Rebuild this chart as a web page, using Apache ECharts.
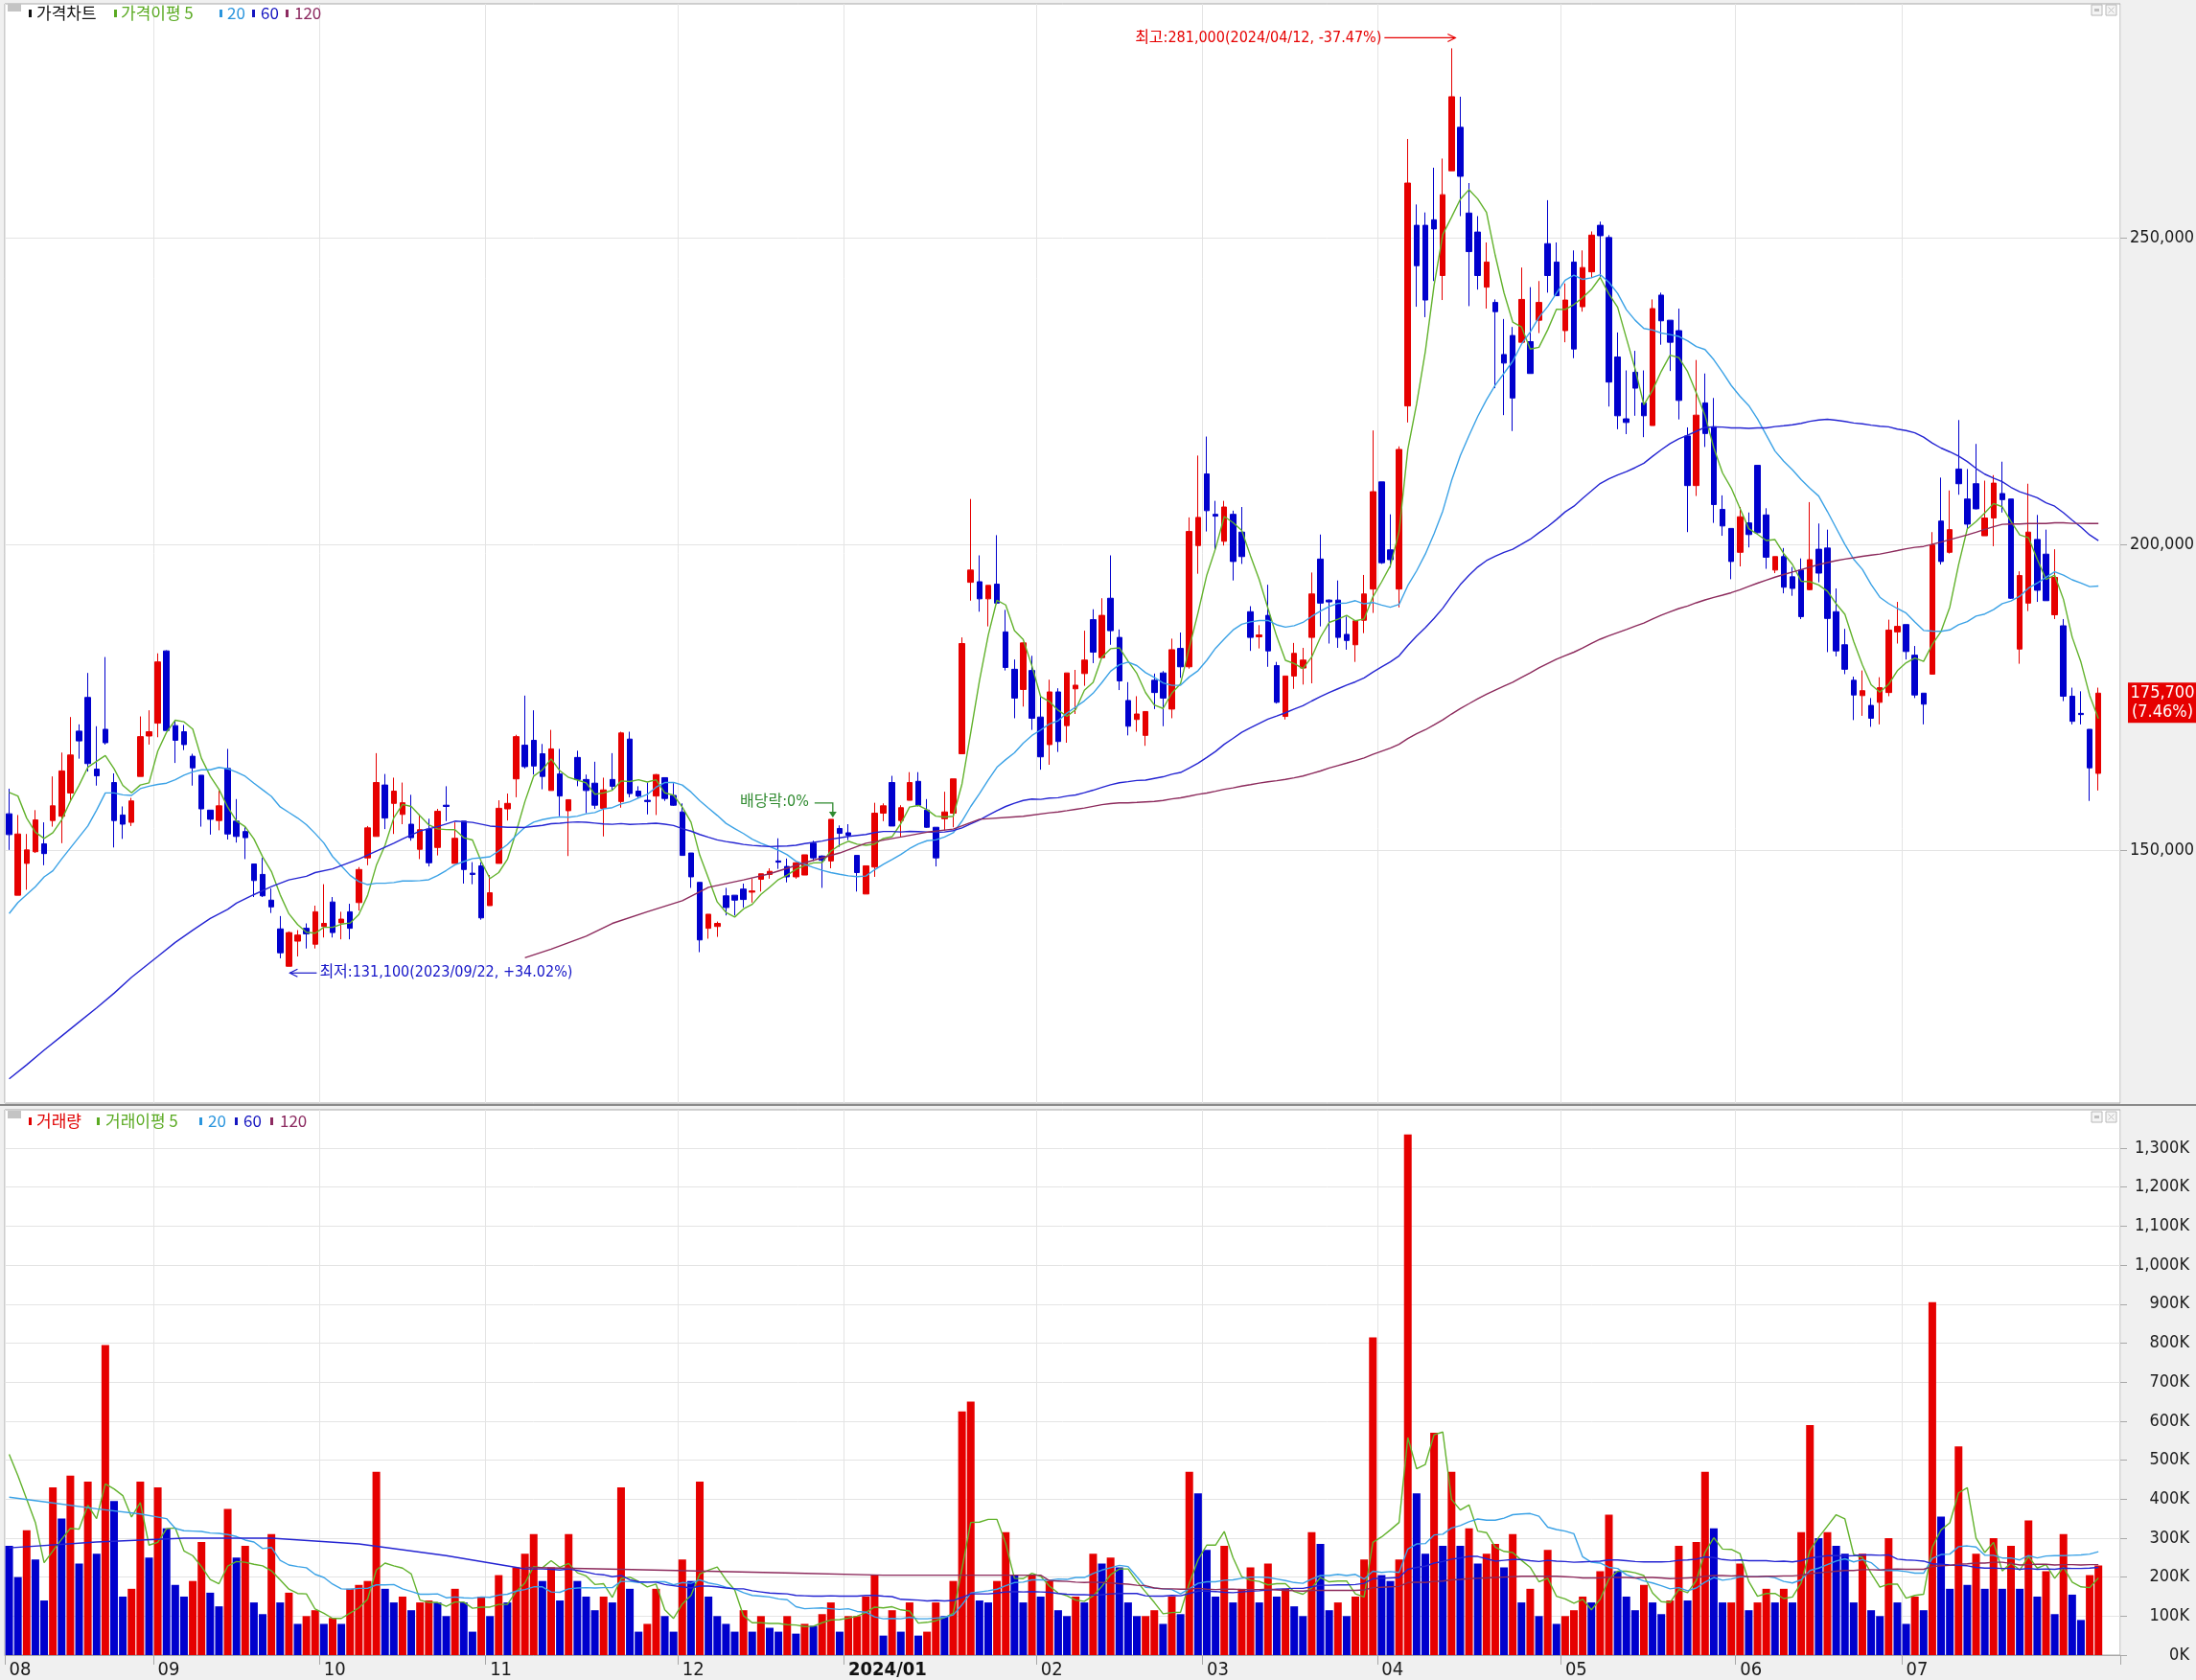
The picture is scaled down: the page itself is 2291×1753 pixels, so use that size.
<!DOCTYPE html>
<html><head><meta charset="utf-8">
<script src="https://cdn.jsdelivr.net/npm/echarts@6/dist/echarts.min.js"></script>
<style>html,body{margin:0;padding:0;background:#f0f0f0;overflow:hidden;}#chart{width:2291px;height:1753px;}</style>
</head><body><div id="chart"></div>
<script>
// ---------- DATA ----------
const tradingDays = {
 '2023-08':[8,9,10,11,14,16,17,18,21,22,23,24,25,28,29,30,31],
 '2023-09':[1,4,5,6,7,8,11,12,13,14,15,18,19,20,21,22,25,26,27],
 '2023-10':[4,5,6,10,11,12,13,16,17,18,19,20,23,24,25,26,27,30,31],
 '2023-11':[1,2,3,6,7,8,9,10,13,14,15,16,17,20,21,22,23,24,27,28,29,30],
 '2023-12':[1,4,5,6,7,8,11,12,13,14,15,18,19,20,21,22,26,27,28],
 '2024-01':[2,3,4,5,8,9,10,11,12,15,16,17,18,19,22,23,24,25,26,29,30,31],
 '2024-02':[1,2,5,6,7,8,13,14,15,16,19,20,21,22,23,26,27,28,29],
 '2024-03':[4,5,6,7,8,11,12,13,14,15,18,19,20,21,22,25,26,27,28,29],
 '2024-04':[1,2,3,4,5,8,9,11,12,15,16,17,18,19,22,23,24,25,26,29,30],
 '2024-05':[2,3,7,8,9,10,13,14,16,17,20,21,22,23,24,27,28,29,30,31],
 '2024-06':[3,4,5,7,10,11,12,13,14,17,18,19,20,21,24,25,26,27,28],
 '2024-07':[1,2,3,4,5,8,9,10,11,12,15,16,17,18,19,22,23,24,25,26,29,30,31]
};
const openP = [
156000,142700,147900,149800,151100,154900,155600,159400,169500,175000,
163300,169800,161100,155800,154600,162100,168700,170800,182600,170400,
169400,165400,162300,156600,154900,163400,154800,153100,147800,146100,
141900,137200,131100,135200,137300,134700,137600,141600,138200,140000,
141500,148800,152300,160700,157700,155900,154300,150200,153500,150500,
157400,147900,154800,146300,147500,141000,147900,156800,161700,167200,
168000,165800,159800,162500,156500,165200,161600,161000,156900,161600,
158000,168200,159700,158200,158900,161900,159000,156300,149600,144800,
137300,137600,142600,142700,143700,143200,145300,146100,148300,147400,
145700,146000,151200,149100,148300,153600,152900,149200,142900,147300,
156100,161100,154900,158200,161300,156600,153800,155200,156100,165800,
193800,193900,191100,193500,185700,179600,176300,179400,171800,167300,
175900,170400,176400,178900,187700,181500,191200,184800,174500,171400,
168800,177800,179000,173100,183000,180000,199800,211500,204900,200500,
204900,202000,189000,184900,188400,180200,171900,178500,179800,184800,
197600,190900,190900,185300,183600,187600,192700,210200,199100,192700,
222600,252100,252100,253000,243900,261000,268100,254100,251000,242000,
239500,231000,234100,233000,233100,236600,249100,246100,234900,246100,
238800,244500,252100,250100,230600,220500,228100,223100,219400,240700,
236600,234900,217700,209600,223100,219200,205700,202600,198700,203500,
212900,204800,195800,198000,194700,195800,192600,199200,199400,189000,
183600,177800,175300,173700,174200,175800,185700,186900,181900,175700,
178800,203800,198700,212300,207400,209900,201400,204300,208300,207400,
182900,190400,200800,198400,188500,186700,175200,172400,169800,162600];
const highP = [
160100,155800,152700,156600,154600,162100,166000,171800,170600,179000,
170300,181600,162600,157200,158600,171900,172900,182200,182700,171300,
170500,165800,162300,156600,159800,166600,158400,153800,147800,148800,
143800,139300,136800,137000,138100,141000,144500,142400,140000,141300,
147300,154000,165900,162500,161900,161100,159100,155900,155200,156800,
160500,154600,154800,148100,148100,146000,158200,159300,168900,175300,
172900,167400,169700,166600,158300,166300,162400,164500,161900,165900,
169400,169400,160500,161100,162500,161900,161000,157700,149600,144800,
139600,138400,143900,142700,144600,145400,146200,147100,152000,148700,
148100,149300,151600,149200,155100,154100,154300,149200,147500,157800,
157700,162200,157400,162800,162800,158400,153800,159600,161700,184800,
207400,198200,193300,201500,189300,181200,184000,181800,175200,177900,
176500,179000,179500,185900,189400,191200,198200,186100,177500,175200,
172700,178900,179300,184600,185600,204400,214500,217600,207100,207100,
205500,206100,189900,186800,193400,180800,178500,183900,183100,195400,
201600,191000,194100,188200,187600,195000,218600,210200,204900,216000,
266200,255500,254200,261500,263000,281000,273100,259000,253600,249300,
240000,236800,235500,245200,242000,243000,256200,249300,242600,248000,
248000,251100,252700,250500,234600,228400,231600,228400,240000,241100,
236600,238500,219100,230100,227900,223900,208000,202600,206100,205200,
212900,205900,198000,199400,196300,197700,206900,203400,202400,192800,
186200,178400,179400,174900,178300,187700,190600,186900,183400,175700,
202000,210900,208800,220300,212300,216400,210400,211300,213500,207400,
195600,209900,204800,202400,199200,187800,176600,176000,169800,176600];
const lowP = [
150100,142700,143600,149600,147600,153900,151200,158000,165000,162900,
160600,167300,150500,151900,154000,162100,167300,168500,169600,164300,
166400,160600,153900,152600,153300,151800,151300,148600,142400,142400,
139800,132400,131100,132700,134000,134000,135800,135800,135500,135500,
140200,147600,152300,153500,152700,154300,151600,148600,147400,149200,
154800,147900,144600,144500,138700,141000,147900,154900,158700,163400,
162400,160000,159800,155600,149100,160500,156100,156800,152300,159900,
157000,158700,158600,155900,155800,158100,157300,149200,143900,133400,
135600,135900,139400,139400,140700,141500,143300,145400,147000,144800,
145400,146000,148300,143900,147100,150600,151700,143300,142900,145700,
154800,154000,152200,158200,157200,153700,147400,153300,153800,165800,
190800,189000,186600,190200,179400,171600,173500,169700,163200,164000,
166100,167600,172300,176900,180600,181500,183600,176200,168800,169400,
167100,173100,170300,171600,178200,179700,195200,202100,199100,199800,
194100,196800,182600,183000,180000,174000,171400,176400,177100,177300,
186600,183800,183100,182800,180800,185500,188800,196800,196200,189700,
219900,238800,237100,243000,239900,261000,253600,238900,241600,238500,
225500,221100,218500,233000,227900,234500,241100,240600,233000,230400,
238000,243500,243700,222500,218800,218000,221000,217500,219400,232600,
228300,220400,202000,207900,215900,203500,201400,194300,196400,199500,
201800,196000,195300,192000,191600,187800,192500,193800,182400,181700,
178800,171300,172000,170200,170600,175200,183800,181200,174900,170600,
178800,196700,198500,208100,202600,205700,201400,199700,205200,191100,
180500,189100,190600,190800,187800,174400,170600,170600,158100,159800];
const closeP = [
152600,152700,150100,155000,149500,157300,163000,165600,167900,164200,
162200,167600,154900,154300,158100,168600,169400,180800,169600,168000,
167300,163500,156800,155100,157300,152700,152300,152100,145100,142600,
140800,133300,136600,136200,136400,140000,138100,136600,138800,137300,
146900,153700,161100,155300,159700,157800,152100,153400,148000,156400,
157200,152000,146900,146100,139000,143100,156900,157700,168600,163700,
163800,162100,166600,158900,158300,161600,159800,157400,159900,160500,
169200,159300,158900,158000,162400,158500,157400,149200,145700,135400,
139600,138100,140700,141900,142000,143400,146200,146600,148100,145700,
148000,149300,148800,148400,155100,152800,152500,146400,147500,156100,
157300,154000,157000,161100,157400,153800,148800,156300,161700,183800,
195800,191100,193300,190400,179900,174900,183900,171600,165300,175900,
167800,179000,177000,181100,182400,188400,185900,177700,170300,172300,
172700,175800,174900,182800,180000,202100,204400,205500,204600,206100,
197200,198000,184800,185200,182600,174200,178500,182200,181100,191900,
190400,190600,184800,184300,187500,191900,208600,197000,197500,215500,
259000,245500,239900,251500,257100,273100,260100,247800,243900,246100,
238000,229600,223900,240000,227900,239500,243900,240600,239900,231900,
245200,250500,250400,226500,221000,219900,225500,221000,238500,236500,
233000,223500,209600,221100,218100,206500,203000,197200,204500,201600,
201900,197900,198000,193000,192800,188200,197500,195300,187900,182600,
179600,175400,176100,171600,176600,186000,186600,182500,175400,173900,
199900,197200,202400,209900,203300,205800,204300,210000,207300,191200,
194900,202000,192500,190800,194600,175200,171100,172200,163500,175700];
// volume in thousands of shares
const volumeK = [
280,200,320,245,140,430,350,460,235,445,
260,795,395,150,170,445,250,430,325,180,
150,190,290,160,125,375,250,280,135,105,
310,135,160,80,100,115,80,95,80,170,
180,190,470,170,135,150,115,135,140,135,
100,170,135,60,150,100,205,135,225,260,
310,190,225,140,310,190,150,115,150,135,
430,170,60,80,170,100,60,245,190,445,
150,100,80,60,115,60,100,70,60,100,
55,80,75,105,135,60,100,100,150,205,
50,115,60,135,50,60,135,100,190,625,
650,140,135,190,315,205,135,205,150,190,
115,100,150,135,260,235,250,225,135,100,
100,115,80,150,105,470,415,270,150,280,
135,170,225,135,235,150,170,125,100,315,
285,115,135,100,150,245,815,205,190,245,
1335,415,260,570,280,470,280,325,235,260,
285,225,310,135,170,100,270,80,100,115,
150,135,215,360,215,150,115,180,135,105,
140,280,140,290,470,325,135,135,235,115,
135,170,135,170,135,315,590,300,315,280,
260,135,260,115,100,300,135,80,150,115,
905,355,170,535,180,260,170,300,170,280,
170,345,150,215,105,310,155,90,205,230];
const priceMa5Read  = [[0,159500],[1,158900],[2,155300],[3,153000]];
const priceMa20Read = [[0,139700],[1,141500],[2,142800],[3,144100],[4,145700],[5,146700],[6,148600],[7,150400],[8,152200],[9,154000],[10,156600],[11,159400],[12,159400],[13,159100],[14,159000],[15,160100],[16,160500],[17,160800],[18,161000]];
const priceMa60Read = [[0,112700],[2,115000],[4,117400],[6,119700],[8,122000],[10,124300],[12,126700],[14,129300],[17,132700],[19,135000],[21,137000],[23,138900],[25,140400],[26,141400],[28,142800],[30,144100],[32,145200],[34,145800],[35,146400],[37,147000],[40,148600],[44,151200],[45,151900],[47,153200],[49,153900],[51,154800],[53,154600],[55,154000],[57,153800],[58,153800]];
const priceMa120Read = [[59,132500],[62,133900],[66,136000],[69,138100],[73,140000],[77,141800],[80,144000],[84,145200],[87,146200],[91,148000],[95,149600],[98,151200],[102,152200],[105,153000],[108,153500],[111,155100],[116,155600]];
const volMa5Read   = [[0,515],[1,460],[2,400],[3,340]];
const volMa20Read  = [[0,405],[5,390],[10,375],[15,362],[18,350]];
const volMa60Read  = [[0,275],[10,290],[20,300],[30,300],[40,285],[50,255],[58,225]];
const volMa120Read = [[59,225],[70,220],[80,215],[90,210],[100,205],[110,205],[118,205]];
const priceTicks = [150000,200000,250000];
const volTicks = [0,100,200,300,400,500,600,700,800,900,1000,1100,1200,1300];

// ---------- BUILD ----------
const dates = [];
Object.keys(tradingDays).forEach(m => tradingDays[m].forEach(d => dates.push(m + '-' + String(d).padStart(2,'0'))));
const N = dates.length;
const cats = dates.concat(['', '']);
const monthStart = new Set();
dates.forEach((d,i) => { if (i === 0 || d.slice(0,7) !== dates[i-1].slice(0,7)) monthStart.add(i); });
const isMonth = (i) => monthStart.has(i);

function movingAverage(vals, n, reads) {
  const out = new Array(vals.length).fill(null);
  reads.forEach(([i,v]) => { out[i] = v; });
  let s = 0;
  for (let i = 0; i < vals.length; i++) {
    s += vals[i];
    if (i >= n) s -= vals[i-n];
    if (i >= n-1) out[i] = Math.round(s / n);
  }
  return out;
}
const UP = '#e60000', DOWN = '#0000cd';
const C5 = '#62b22c', C20 = '#3ba2e6', C60 = '#2424d2', C120 = '#8c2a5c';
const NUM_FONT = '"Liberation Sans Narrow","DejaVu Sans Condensed","Liberation Sans",sans-serif';
const TXT_FONT = '"Liberation Sans Narrow","DejaVu Sans Condensed","Noto Sans CJK KR","Noto Sans",sans-serif';
const KR_FONT = '"Noto Sans CJK KR","Noto Sans",sans-serif';

const candleData = dates.map((d,i) => [openP[i], closeP[i], lowP[i], highP[i]]);
const volData = volumeK.map((v,i) => ({value: v, itemStyle: {color: (i > 0 && v >= volumeK[i-1]) ? UP : DOWN}}));

function maLine(data, color, xi, yi) {
  return {type:'line', data, xAxisIndex:xi, yAxisIndex:yi, symbol:'none', showSymbol:false, connectNulls:true,
          lineStyle:{color, width:1.4}, z:4, silent:true};
}

const gridLineColor = '#e4e4e4';
const option = {
  animation: false,
  backgroundColor: '#f0f0f0',
  grid: [
    {left:5, right:79, top:4, height:1147, containLabel:false, outerBoundsMode:'none', show:true, backgroundColor:'#ffffff', borderColor:'#a8a8a8', borderWidth:1},
    {left:5, right:79, top:1158, height:569, containLabel:false, outerBoundsMode:'none', show:true, backgroundColor:'#ffffff', borderColor:'#a8a8a8', borderWidth:1}
  ],
  xAxis: [
    {type:'category', gridIndex:0, data:cats, boundaryGap:true,
     axisLine:{show:false}, axisTick:{show:false}, axisLabel:{show:false},
     splitLine:{show:true, interval:(i)=>isMonth(i), lineStyle:{color:gridLineColor, width:1}}},
    {type:'category', gridIndex:1, data:cats, boundaryGap:true,
     axisLine:{show:true, lineStyle:{color:'#a8a8a8'}},
     axisTick:{show:true, interval:(i)=>isMonth(i), length:10, lineStyle:{color:'#a8a8a8'}},
     axisLabel:{interval:(i)=>isMonth(i), align:'left', margin:6, fontFamily:NUM_FONT, fontSize:20, color:'#1a1a1a',
       formatter:(v)=> v ? (v.slice(5,7) === '01' ? '{b|' + v.slice(0,4) + '/01}' : v.slice(5,7)) : '',
       rich:{b:{fontFamily:NUM_FONT, fontSize:20, fontWeight:'bold', color:'#111'}}},
     splitLine:{show:true, interval:(i)=>isMonth(i), lineStyle:{color:gridLineColor, width:1}}}
  ],
  yAxis: [
    {type:'value', gridIndex:0, position:'right', min:108760, max:288266,
     axisLine:{show:false},
     axisTick:{show:true, customValues:priceTicks, length:7, lineStyle:{color:'#a8a8a8'}},
     axisLabel:{customValues:priceTicks, formatter:(v)=>v.toLocaleString('en-US'), fontFamily:NUM_FONT, fontSize:18, color:'#1a1a1a', margin:77, align:'right'},
     splitLine:{show:true, lineStyle:{color:gridLineColor, width:1}}},
    {type:'value', gridIndex:1, position:'right', min:0, max:1398.4,
     axisLine:{show:false},
     axisTick:{show:true, customValues:volTicks, length:7, lineStyle:{color:'#a8a8a8'}},
     axisLabel:{customValues:volTicks, formatter:(v)=>v.toLocaleString('en-US') + 'K', fontFamily:NUM_FONT, fontSize:18, color:'#1a1a1a', margin:72, align:'right'},
     splitLine:{show:true, lineStyle:{color:gridLineColor, width:1}}}
  ],
  series: [
    {type:'candlestick', xAxisIndex:0, yAxisIndex:0, data:candleData, barWidth:6, z:2, silent:true,
     itemStyle:{color:UP, color0:DOWN, borderColor:UP, borderColor0:DOWN, borderWidth:1}},
    maLine(movingAverage(closeP, 5, priceMa5Read), C5, 0, 0),
    maLine(movingAverage(closeP, 20, priceMa20Read), C20, 0, 0),
    maLine(movingAverage(closeP, 60, priceMa60Read), C60, 0, 0),
    maLine(movingAverage(closeP, 120, priceMa120Read), C120, 0, 0),
    {type:'bar', xAxisIndex:1, yAxisIndex:1, data:volData, barWidth:8, z:2, silent:true},
    maLine(movingAverage(volumeK, 5, volMa5Read), C5, 1, 1),
    maLine(movingAverage(volumeK, 20, volMa20Read), C20, 1, 1),
    maLine(movingAverage(volumeK, 60, volMa60Read), C60, 1, 1),
    maLine(movingAverage(volumeK, 120, volMa120Read), C120, 1, 1)
  ]
};
const chart = echarts.init(document.getElementById('chart'), null, {renderer:'canvas'});
chart.setOption(option);

// ---------- ANNOTATIONS (positions from the chart's own scales) ----------
const P = (i, v) => chart.convertToPixel({gridIndex:0}, [i, v]);
let hiIdx = 0, loIdx = 0;
highP.forEach((v,i)=>{ if (v > highP[hiIdx]) hiIdx = i; });
lowP.forEach((v,i)=>{ if (v < lowP[loIdx]) loIdx = i; });
const last = closeP[N-1], prev = closeP[N-2];
const fmt = (v)=>v.toLocaleString('en-US');
const dslash = (d)=>d.replace(/-/g,'/');
const hiPct = ((last/highP[hiIdx]-1)*100).toFixed(2);
const loPct = ((last/lowP[loIdx]-1)*100).toFixed(2);
const chgPct = ((last/prev-1)*100).toFixed(2);
const exDivIdx = dates.indexOf('2023-12-27');

const g = [];
function txt(text, x, y, fill, align, size, family) {
  g.push({type:'text', silent:true, z:100, style:{text, x, y, fill, align:align||'left', verticalAlign:'middle', fontSize:size||16, fontFamily:family||TXT_FONT}});
}
function line(points, stroke, w) {
  g.push({type:'polyline', silent:true, z:100, shape:{points}, style:{stroke, lineWidth:w||1.2, fill:null}});
}
function rect(x,y,w,h,fill,stroke) {
  g.push({type:'rect', silent:true, z:100, shape:{x,y,width:w,height:h}, style:{fill, stroke:stroke||null, lineWidth:1}});
}
// high
{
  const [x,y] = P(hiIdx, highP[hiIdx]);
  const ty = y - 11, tip = x + 4;
  line([[tip-74, ty],[tip, ty]], UP, 1.2);
  line([[tip-8, ty-4],[tip, ty],[tip-8, ty+4]], UP, 1.2);
  txt('최고:' + fmt(highP[hiIdx]) + '(' + dslash(dates[hiIdx]) + ', ' + hiPct + '%)', tip-77, ty, UP, 'right');
}
// low
{
  const [x,y] = P(loIdx, lowP[loIdx]);
  const ty = y + 7, tip = x + 1;
  line([[tip, ty],[tip+28, ty]], '#1515c8', 1.2);
  line([[tip+8, ty-4],[tip, ty],[tip+8, ty+4]], '#1515c8', 1.2);
  txt('최저:' + fmt(lowP[loIdx]) + '(' + dslash(dates[loIdx]) + ', +' + loPct + '%)', tip+31, ty, '#1515c8', 'left');
}
// ex-dividend
{
  const [x,y] = P(exDivIdx, highP[exDivIdx]);
  const GREEN = '#2f8a2f';
  line([[x-17, y-17],[x+2, y-17],[x+2, y-3]], GREEN, 1.3);
  g.push({type:'polygon', silent:true, z:100, shape:{points:[[x-2,y-8],[x+6,y-8],[x+2,y-2]]}, style:{fill:GREEN}});
  txt('배당락:0%', x-23, y-18, GREEN, 'right');
}
// last price box
{
  const [, y] = P(N-1, last);
  rect(2220, y-11, 71, 42, UP);
  txt(fmt(last), 2256, y, '#ffffff', 'center', 18, NUM_FONT);
  txt('(' + chgPct + '%)', 2256, y+20, '#ffffff', 'center', 18, NUM_FONT);
}
// legends
function legend(items, y, boxY) {
  rect(8, boxY, 14, 8, '#c4c4c4');
  items.forEach(it => {
    rect(it.bx, y-4, 3, 8, it.c);
    txt(it.t, it.tx, y, it.c, 'left', 17, KR_FONT);
  });
}
legend([
  {bx:30, tx:38, t:'가격차트', c:'#111111'},
  {bx:119, tx:126, t:'가격이평 5', c:'#5aaa22'},
  {bx:229, tx:237, t:'20', c:'#2a95dd'},
  {bx:263, tx:272, t:'60', c:'#1515c0'},
  {bx:298, tx:307, t:'120', c:'#8c2a60'}
], 14, 4);
legend([
  {bx:30, tx:38, t:'거래량', c:'#e00000'},
  {bx:101, tx:110, t:'거래이평 5', c:'#5aaa22'},
  {bx:208, tx:217, t:'20', c:'#2a95dd'},
  {bx:245, tx:254, t:'60', c:'#1515c0'},
  {bx:282, tx:292, t:'120', c:'#8c2a60'}
], 1170, 1159);
// panel window buttons
[[5],[1160]].forEach(([yy]) => {
  rect(2182, yy, 11, 11, '#f4f4f4', '#b8b8b8');
  rect(2185, yy+4, 5, 3, '#c0c0c0');
  rect(2197, yy, 11, 11, '#f4f4f4', '#b8b8b8');
  line([[2199.5, yy+2.5],[2205.5, yy+8.5]], '#c0c0c0', 1);
  line([[2205.5, yy+2.5],[2199.5, yy+8.5]], '#c0c0c0', 1);
});
// panel separator
rect(0, 1152, 2291, 2, '#8a8a8a');
chart.setOption({graphic: g});
</script>
</body></html>
